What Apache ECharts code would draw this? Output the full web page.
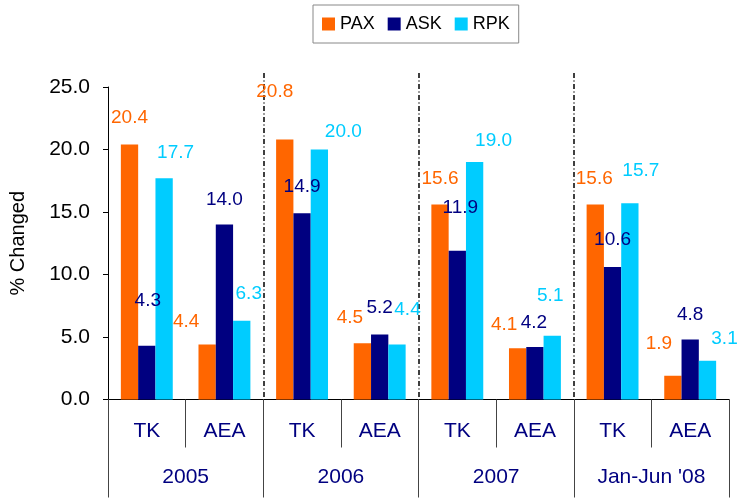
<!DOCTYPE html>
<html>
<head>
<meta charset="utf-8">
<script src="https://cdn.jsdelivr.net/npm/echarts@6/dist/echarts.min.js"></script>
<style>
  html, body { margin: 0; padding: 0; background: #fff; }
  #chart { width: 738px; height: 498px; }
</style>
</head>
<body>
<div id="chart"></div>
<script>
// categories
var carriers = ['TK', 'AEA', 'TK', 'AEA', 'TK', 'AEA', 'TK', 'AEA'];
var periods = ['2005', '2006', '2007', "Jan-Jun '08"];

// % changed
var pax = [20.4, 4.4, 20.8, 4.5, 15.6, 4.1, 15.6, 1.9];
var ask = [4.3, 14.0, 14.9, 5.2, 11.9, 4.2, 10.6, 4.8];
var rpk = [17.7, 6.3, 20.0, 4.4, 19.0, 5.1, 15.7, 3.1];

var yTicks = [0, 5, 10, 15, 20, 25];

// label nudges (the labels in the original sit at odd places)
var paxNudge = [[0,-17],[-21,-13],[-10,-38],[-12.5,-16],[0,-16.5],[-13.5,-14],[-1,-16.5],[-14,-22]];
var askNudge = [[1,-35],[0,-15],[0,-17],[0,-17.5],[3,-33],[-1,-15],[0,-18],[0,-15.5]];
var rpkNudge = [[11.5,-16],[7,-17],[24,-8.5],[10.5,-25.5],[19,-12],[-2,-30],[11,-23],[17,-12]];

var FONT = 'Liberation Sans, Arial, sans-serif';
var NAVY = '#000080';

(function () {
  var myChart = echarts.init(document.getElementById('chart'));

  function makeSeries(name, values, nudge, color) {
    return {
      name: name,
      type: 'bar',
      barWidth: 17.3,
      barGap: '0%',
      xAxisIndex: 0,
      yAxisIndex: 0,
      itemStyle: { color: color },
      data: values.map(function (v, i) {
        return {
          value: v,
          label: { offset: nudge[i] }
        };
      }),
      label: {
        show: true,
        position: 'top',
        distance: 0,
        color: color,
        fontSize: 19,
        fontFamily: FONT,
        formatter: function (p) { return p.value.toFixed(1); }
      }
    };
  }

  var option = {
    animation: false,
    textStyle: { fontFamily: FONT },
    legend: {
      data: ['PAX', 'ASK', 'RPK'],
      left: 313,
      top: 5,
      padding: [10, 9],
      itemGap: 13,
      itemWidth: 13,
      itemHeight: 13,
      icon: 'rect',
      borderColor: '#888',
      borderWidth: 1,
      textStyle: { fontSize: 18, color: '#000', fontFamily: FONT }
    },
    grid: [
      { left: 108, right: 9, top: 87, bottom: 98.5 },
      { left: 108, right: 9, top: 73, bottom: 98.5 }
    ],
    xAxis: [
      {
        type: 'category',
        gridIndex: 0,
        position: 'bottom',
        data: carriers,
        axisLine: { show: true, lineStyle: { color: '#000', width: 1 } },
        axisTick: { show: true, interval: 0, length: 48, lineStyle: { color: '#444' } },
        axisLabel: { interval: 0, margin: 21, fontSize: 21, color: NAVY, fontFamily: FONT },
        splitLine: { show: false }
      },
      {
        type: 'category',
        gridIndex: 0,
        position: 'bottom',
        data: periods,
        axisLine: { show: false },
        axisTick: { show: true, interval: 0, length: 98, lineStyle: { color: '#444' } },
        axisLabel: { interval: 0, margin: 67, fontSize: 21, color: NAVY, fontFamily: FONT },
        splitLine: { show: false }
      },
      {
        type: 'category',
        gridIndex: 1,
        data: periods,
        axisLine: { show: false },
        axisTick: { show: false },
        axisLabel: { show: false },
        splitLine: {
          show: true,
          interval: 0,
          showMinLine: false,
          showMaxLine: false,
          lineStyle: { color: '#000', width: 1.5, type: [5, 2.5, 1, 2.5] }
        }
      }
    ],
    yAxis: [
      {
        type: 'value',
        gridIndex: 0,
        min: yTicks[0],
        max: yTicks[yTicks.length - 1],
        interval: yTicks[1] - yTicks[0],
        name: '% Changed',
        nameLocation: 'middle',
        nameGap: 80,
        nameTextStyle: { fontSize: 20, color: '#000', fontFamily: FONT },
        axisLine: { show: true, lineStyle: { color: '#000', width: 1 } },
        axisTick: { show: true, length: 5, lineStyle: { color: '#000' } },
        axisLabel: {
          margin: 18,
          fontSize: 21,
          color: '#000',
          fontFamily: FONT,
          formatter: function (v) { return v.toFixed(1); }
        },
        splitLine: { show: false }
      },
      {
        type: 'value',
        gridIndex: 1,
        show: false,
        min: 0,
        max: 1
      }
    ],
    series: [
      makeSeries('PAX', pax, paxNudge, '#FF6600'),
      makeSeries('ASK', ask, askNudge, NAVY),
      makeSeries('RPK', rpk, rpkNudge, '#00CCFF')
    ]
  };

  myChart.setOption(option);
})();
</script>
</body>
</html>
